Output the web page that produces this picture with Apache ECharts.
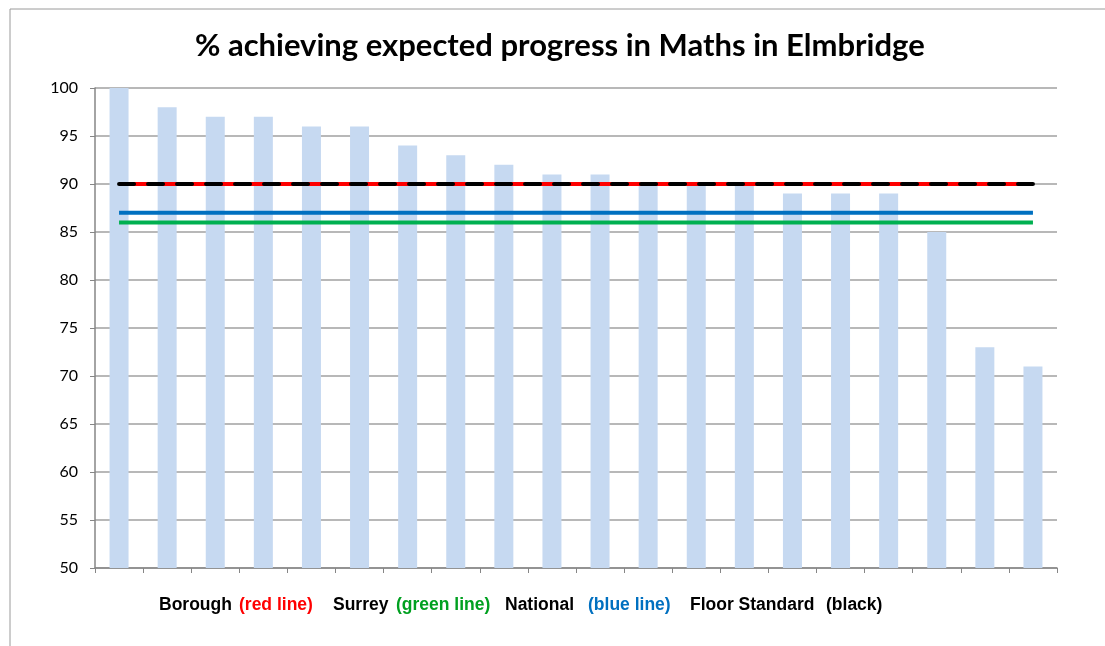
<!DOCTYPE html>
<html style="height: 100%">
<head>
<meta charset="utf-8">
<script src="https://cdn.jsdelivr.net/npm/echarts@6/dist/echarts.min.js"></script>
</head>
<body style="height: 100%; margin: 0; background: #fff">
<div id="container" style="width: 1105px; height: 646px"></div>
<script type="text/javascript">
// schools in Elmbridge, no names on the axis
var categories = ['', '', '', '', '', '', '', '', '', '', '', '', '', '', '', '', '', '', '', ''];
var schoolValues = [100, 98, 97, 97, 96, 96, 94, 93, 92, 91, 91, 90, 90, 90, 89, 89, 89, 85, 73, 71];
var boroughLevel = 90;
var surreyLevel = 86;
var nationalLevel = 87;
var floorLevel = 90;
var yTicks = [50, 55, 60, 65, 70, 75, 80, 85, 90, 95, 100];
// key under the chart: text, colour, left x
var keyParts = [
    ['Borough', '#000000', 159],
    ['(red line)', '#ff0000', 239],
    ['Surrey', '#000000', 333],
    ['(green line)', '#00a020', 396],
    ['National', '#000000', 505],
    ['(blue line)', '#0070c0', 588],
    ['Floor Standard', '#000000', 690],
    ['(black)', '#000000', 826]
];

function flat(v) {
    return categories.map(function () { return v; });
}

var myChart = echarts.init(document.getElementById('container'));

var graphics = [
    {
        type: 'rect',
        shape: { x: 10, y: 9, width: 1200, height: 700 },
        style: { fill: 'none', stroke: '#9a9a9a', lineWidth: 1 },
        silent: true
    }
];
keyParts.forEach(function (p) {
    graphics.push({
        type: 'text',
        x: p[2],
        y: 605,
        style: {
            text: p[0],
            fill: p[1],
            fontFamily: 'Liberation Sans',
            fontWeight: 'bold',
            fontSize: 17.5,
            verticalAlign: 'middle'
        },
        silent: true
    });
});

var option = {
    animation: false,
    backgroundColor: '#ffffff',
    title: {
        text: '% achieving expected progress in Maths in Elmbridge',
        left: 190,
        top: 25,
        textStyle: {
            fontFamily: 'Lato',
            fontWeight: 'bold',
            fontSize: 31,
            color: '#000'
        }
    },
    graphic: graphics,
    grid: {
        left: 95,
        right: 48,
        top: 88,
        bottom: 78
    },
    xAxis: {
        type: 'category',
        data: categories,
        axisLine: { lineStyle: { color: '#868686', width: 1.5 } },
        axisTick: { show: true, length: 5, lineStyle: { color: '#868686' } },
        axisLabel: { show: false },
        splitLine: { show: false }
    },
    yAxis: {
        type: 'value',
        min: yTicks[0],
        max: yTicks[yTicks.length - 1],
        interval: 5,
        axisLine: { show: true, lineStyle: { color: '#868686', width: 1.5 } },
        axisTick: { show: true, length: 5, lineStyle: { color: '#868686' } },
        axisLabel: {
            fontFamily: 'Lato',
            fontSize: 16,
            color: '#000',
            margin: 17
        },
        splitLine: { lineStyle: { color: '#a0a0a0', width: 1.5 } }
    },
    series: [
        {
            name: 'Schools',
            type: 'bar',
            data: schoolValues,
            barWidth: 19,
            itemStyle: { color: '#c6d9f1' },
            z: 1
        },
        {
            name: 'Surrey',
            type: 'line',
            data: flat(surreyLevel),
            symbol: 'none',
            lineStyle: { color: '#00b050', width: 4 },
            z: 3
        },
        {
            name: 'National',
            type: 'line',
            data: flat(nationalLevel),
            symbol: 'none',
            lineStyle: { color: '#0070c0', width: 4 },
            z: 3
        },
        {
            name: 'Borough',
            type: 'line',
            data: flat(boroughLevel),
            symbol: 'none',
            lineStyle: { color: '#ff0000', width: 4 },
            z: 3
        },
        {
            name: 'Floor Standard',
            type: 'line',
            data: flat(floorLevel),
            symbol: 'none',
            lineStyle: { color: '#000000', width: 4, type: [15, 14], cap: 'round' },
            z: 4
        }
    ]
};

myChart.setOption(option);
</script>
</body>
</html>
